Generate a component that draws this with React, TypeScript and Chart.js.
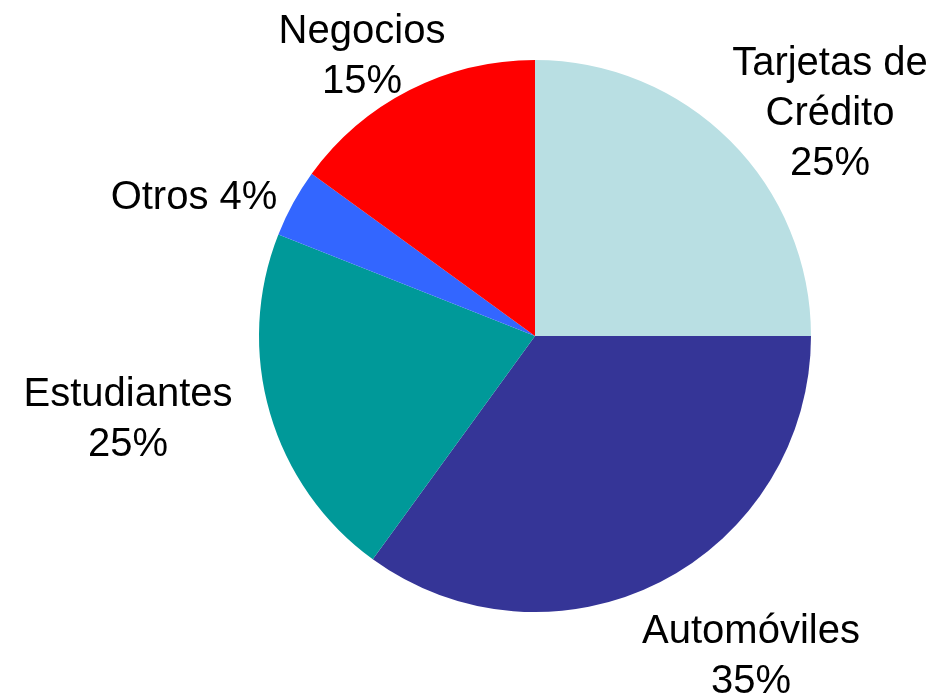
import React, { useEffect, useRef } from "react";
import { Chart, registerables } from "chart.js";

Chart.register(...registerables);

const categories = ["Tarjetas de Crédito", "Automóviles", "Estudiantes", "Otros", "Negocios"];
const values = [25, 35, 21, 4, 15];
const labelLines = [
  ["Tarjetas de", "Crédito", "25%"],
  ["Automóviles", "35%"],
  ["Estudiantes", "25%"],
  ["Otros 4%"],
  ["Negocios", "15%"],
];
const colors = ["#B9DFE3", "#353597", "#009999", "#3366FF", "#FF0000"];

// label anchor offsets from pie centre, in units of radius (x centre, first baseline)
const labelAnchors = [
  [295 / 276, -261 / 276],
  [216 / 276, 307 / 276],
  [-407 / 276, 70 / 276],
  [-341 / 276, -127 / 276],
  [-173 / 276, -293 / 276],
];

const labelPlugin = {
  id: "pieLabels",
  afterDraw(chart: any) {
    const ctx = chart.ctx;
    const meta = chart.getDatasetMeta(0);
    const arc = meta.data[0];
    if (!arc) return;
    const cx = arc.x;
    const cy = arc.y;
    const r = arc.outerRadius;
    ctx.save();
    ctx.fillStyle = "#000";
    ctx.font = '40px "Liberation Sans", Arial, sans-serif';
    ctx.textAlign = "center";
    ctx.textBaseline = "alphabetic";
    labelLines.forEach((lines, i) => {
      const x = cx + labelAnchors[i][0] * r;
      const y0 = cy + labelAnchors[i][1] * r;
      lines.forEach((t, j) => {
        ctx.fillText(t, x, y0 + j * 50);
      });
    });
    ctx.restore();
  },
};

export default function App() {
  const ref = useRef<HTMLCanvasElement>(null);
  useEffect(() => {
    document.body.style.margin = "0";
    const chart = new Chart(ref.current!, {
      type: "pie",
      data: {
        labels: categories,
        datasets: [
          {
            data: values,
            backgroundColor: colors,
            borderWidth: 0,
          },
        ],
      },
      options: {
        responsive: false,
        animation: false,
        layout: { padding: { left: 259, top: 60, right: 139, bottom: 83 } },
        plugins: {
          legend: { display: false },
          tooltip: { enabled: false },
          title: { display: false },
        },
      },
      plugins: [labelPlugin],
    });
    return () => chart.destroy();
  }, []);
  return (
    <div style={{ width: 950, height: 695, background: "#fff" }}>
      <canvas ref={ref} width={950} height={695} style={{ display: "block" }} />
    </div>
  );
}
